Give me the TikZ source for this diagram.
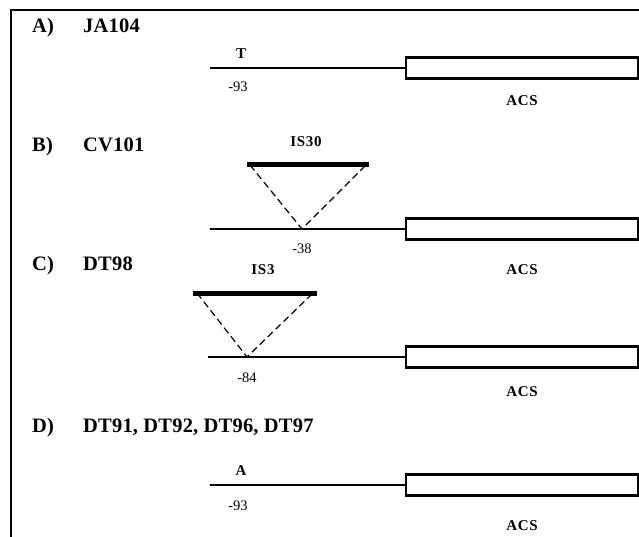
\documentclass[tikz,border=0pt]{standalone}
\usepackage{fontspec}
\setmainfont{Liberation Serif}
\usetikzlibrary{positioning}

\begin{document}
\begin{tikzpicture}[
    x=1pt, y=-1pt,
    head/.style={anchor=base west, inner sep=0pt, font=\fontsize{20.5}{23}\selectfont\bfseries\addfontfeature{LetterSpace=1}},
    gene/.style={rectangle, draw, line width=2.2pt, minimum width=232pt, minimum height=21pt, anchor=west, inner sep=0pt},
    dna/.style={line width=1.6pt},
    isbar/.style={line width=5pt},
    gap/.style={line width=1.2pt, dash pattern=on 7pt off 4pt},
    site/.style={inner sep=0pt, font=\fontsize{14.5}{16}\selectfont},
    tag/.style={inner sep=0pt, font=\fontsize{15}{17}\selectfont\bfseries\addfontfeature{LetterSpace=5}}
]
    \useasboundingbox (0,0) rectangle (639,537);
    \draw[line width=2pt] (11,537) -- (11,10) -- (639,10);

    % A) JA104
    \node[head] (labA) at (32,33) {A)};
    \node[head] (strA) at (83,33) {JA104};
    \coordinate (startA) at (210,68);
    \node[gene] (geneA) at (405,68) {};
    \draw[dna] (startA) -- (geneA.west);
    \node[tag] (baseA) at (241,54) {T};
    \node[site] (siteA) at (238,87) {-93};
    \node[tag] (acsA) at (522,101) {ACS};

    % B) CV101
    \node[head] (labB) at (32,152) {B)};
    \node[head] (strB) at (83,152) {CV101};
    \coordinate (startB) at (210,229);
    \node[gene] (geneB) at (405,229) {};
    \draw[dna] (startB) -- (geneB.west);
    \coordinate (isBl) at (247,165);
    \coordinate (isBr) at (369,165);
    \coordinate (insB) at (302,229);
    \draw[isbar] (isBl) -- (isBr);
    \draw[gap] ([xshift=3pt]isBl) -- (insB) -- ([xshift=-3pt]isBr);
    \node[tag] (isB) at (306,142) {IS30};
    \node[site] (siteB) at (302,249) {-38};
    \node[tag] (acsB) at (522,270) {ACS};

    % C) DT98
    \node[head] (labC) at (32,270) {C)};
    \node[head] (strC) at (83,270) {DT98};
    \coordinate (startC) at (208,357);
    \node[gene] (geneC) at (405,357) {};
    \draw[dna] (startC) -- (geneC.west);
    \coordinate (isCl) at (193,293);
    \coordinate (isCr) at (317,293);
    \coordinate (insC) at (247,357);
    \draw[isbar] (isCl) -- (isCr);
    \draw[gap] ([xshift=4pt]isCl) -- (insC) -- ([xshift=-4pt]isCr);
    \node[tag] (isC) at (263,270) {IS3};
    \node[site] (siteC) at (247,378) {-84};
    \node[tag] (acsC) at (522,392) {ACS};

    % D) DT91, DT92, DT96, DT97
    \node[head] (labD) at (32,432) {D)};
    \node[head] (strD) at (83,432) {DT91, DT92, DT96, DT97};
    \coordinate (startD) at (210,485);
    \node[gene] (geneD) at (405,485) {};
    \draw[dna] (startD) -- (geneD.west);
    \node[tag] (baseD) at (241,471) {A};
    \node[site] (siteD) at (238,506) {-93};
    \node[tag] (acsD) at (522,526) {ACS};
\end{tikzpicture}
\end{document}
